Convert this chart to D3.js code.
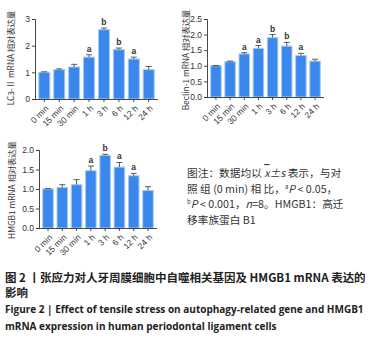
<!DOCTYPE html>
<html><head><meta charset="utf-8">
<script src="https://cdn.jsdelivr.net/npm/d3@7"></script>
<style>body{margin:0;background:#fff}svg{display:block}</style>
</head><body>
<script>
const categories = ["0 min","15 min","30 min","1 h","3 h","6 h","12 h","24 h"];
const lc3Values = [1.0,1.1,1.2,1.57,2.6,1.85,1.5,1.1];
const lc3Errors = [0.02,0.03,0.1,0.09,0.06,0.06,0.07,0.12];
const lc3Marks = ["","","","a","b","b","a",""];
const beclinValues = [1.0,1.13,1.38,1.56,1.9,1.63,1.33,1.15];
const beclinErrors = [0.01,0.02,0.04,0.09,0.1,0.12,0.07,0.06];
const beclinMarks = ["","","a","a","b","b","a",""];
const hmgbValues = [1.0,1.04,1.11,1.47,1.86,1.56,1.34,0.96];
const hmgbErrors = [0.01,0.07,0.13,0.12,0.03,0.12,0.06,0.1];
const hmgbMarks = ["","","","a","b","a","a",""];
const lc3Ticks = [0,1,2,3];
const beclinTicks = [0,0.5,1.0,1.5,2.0,2.5];
const hmgbTicks = [0,0.5,1.0,1.5,2.0];

const svg = d3.select("body").append("svg").attr("width",378).attr("height",338);
const font = "'Liberation Sans', Arial, sans-serif";
const cjk = "'Noto Sans CJK SC', sans-serif";

function panel(o){
  const g = svg.append("g");
  const x = d3.scaleBand().domain(categories).range([o.x0+2,o.x1]).paddingInner(0.26).paddingOuter(0.12);
  const y = d3.scaleLinear().domain([0,o.max]).range([o.y0,o.yt]);
  g.selectAll("rect.bar").data(o.values).enter().append("rect")
    .attr("x",(d,i)=>x(categories[i])).attr("width",x.bandwidth())
    .attr("y",d=>y(d)).attr("height",d=>o.y0-y(d))
    .attr("fill","#3a88ee").attr("stroke","#a9c9f2").attr("stroke-width",1);
  o.values.forEach((v,i)=>{
    const cx = x(categories[i])+x.bandwidth()/2;
    const top = y(v+o.errors[i]);
    g.append("line").attr("x1",cx).attr("x2",cx).attr("y1",y(v)).attr("y2",top).attr("stroke","#333").attr("stroke-width",0.8);
    g.append("line").attr("x1",cx-3).attr("x2",cx+3).attr("y1",top).attr("y2",top).attr("stroke","#333").attr("stroke-width",0.8);
    if(o.marks[i]) g.append("text").attr("x",cx).attr("y",top-3).attr("text-anchor","middle")
      .attr("font-family",font).attr("font-size",8.5).attr("font-weight","bold").attr("fill","#333").text(o.marks[i]);
  });
  const ya = d3.axisLeft(y).tickValues(o.ticks).tickSize(3).tickPadding(2).tickFormat(o.fmt);
  const yg = g.append("g").attr("transform",`translate(${o.x0},0)`).call(ya);
  const xa = d3.axisBottom(x).tickSize(3).tickSizeOuter(0).tickPadding(2);
  const xg = g.append("g").attr("transform",`translate(0,${o.y0})`).call(xa);
  xg.select(".domain").attr("d",`M${o.x0},0.5H${o.x1+2}`);
  [yg,xg].forEach(a=>{a.selectAll("path,line").attr("stroke","#333").attr("stroke-width",0.9);
    a.selectAll("text").attr("font-family",font).attr("font-size",8.5).attr("fill","#333");});
  xg.selectAll("text").attr("text-anchor","end").attr("dy","0.3em").attr("dx","-0.1em")
    .attr("transform","translate(0,4) rotate(-45)");
  g.append("text").attr("transform",`translate(${o.lx},${o.ly}) rotate(-90)`)
    .attr("text-anchor","middle").attr("font-family",cjk).attr("font-size",8.3).attr("fill","#333").text(o.label);
}

panel({x0:35,x1:156,y0:99,yt:19,max:3,ticks:lc3Ticks,fmt:d3.format("d"),values:lc3Values,errors:lc3Errors,marks:lc3Marks,label:"LC3-Ⅱ mRNA 相对表达量",lx:14,ly:58});
panel({x0:207,x1:322,y0:97,yt:19,max:2.5,ticks:beclinTicks,fmt:d3.format(".1f"),values:beclinValues,errors:beclinErrors,marks:beclinMarks,label:"Beclin-1 mRNA 相对表达量",lx:189,ly:60});
panel({x0:39,x1:155,y0:228,yt:150,max:2.0,ticks:hmgbTicks,fmt:d3.format(".1f"),values:hmgbValues,errors:hmgbErrors,marks:hmgbMarks,label:"HMGB1 mRNA 相对表达量",lx:15,ly:190});

const note = svg.append("text").attr("font-family",cjk).attr("font-size",10.7).attr("fill","#333");
note.append("tspan").attr("x",187).attr("y",177).html("图注：数据均以 <tspan font-style='italic' text-decoration='overline'>x</tspan><tspan font-style='italic'>±s</tspan> 表示，与对");
note.append("tspan").attr("x",187).attr("y",193).html("照 组 (0 min) 相 比，<tspan font-size='6' dy='-4'>a</tspan><tspan font-style='italic' dy='4'>P</tspan> &lt; 0.05，");
note.append("tspan").attr("x",187).attr("y",208).html("<tspan font-size='6' dy='-4'>b</tspan><tspan font-style='italic' dy='4'>P</tspan> &lt; 0.001，<tspan font-style='italic'>n</tspan>=8。HMGB1：高迁");
note.append("tspan").attr("x",187).attr("y",224).text("移率族蛋白 B1");

const cap = svg.append("g").attr("font-family",cjk).attr("fill","#222");
cap.append("text").attr("x",5).attr("y",282).attr("font-size",11.5).attr("font-weight","bold").text("图 2 丨张应力对人牙周膜细胞中自噬相关基因及 HMGB1 mRNA 表达的");
cap.append("text").attr("x",5).attr("y",297).attr("font-size",11.5).attr("font-weight","bold").text("影响");
cap.append("text").attr("x",5).attr("y",313).attr("font-size",10).attr("font-weight","bold").attr("font-family","'Open Sans', sans-serif").text("Figure 2  |  Effect of tensile stress on autophagy-related gene and HMGB1");
cap.append("text").attr("x",5).attr("y",330).attr("font-size",10).attr("font-weight","bold").attr("font-family","'Open Sans', sans-serif").text("mRNA expression in human periodontal ligament cells");
</script>
</body></html>
